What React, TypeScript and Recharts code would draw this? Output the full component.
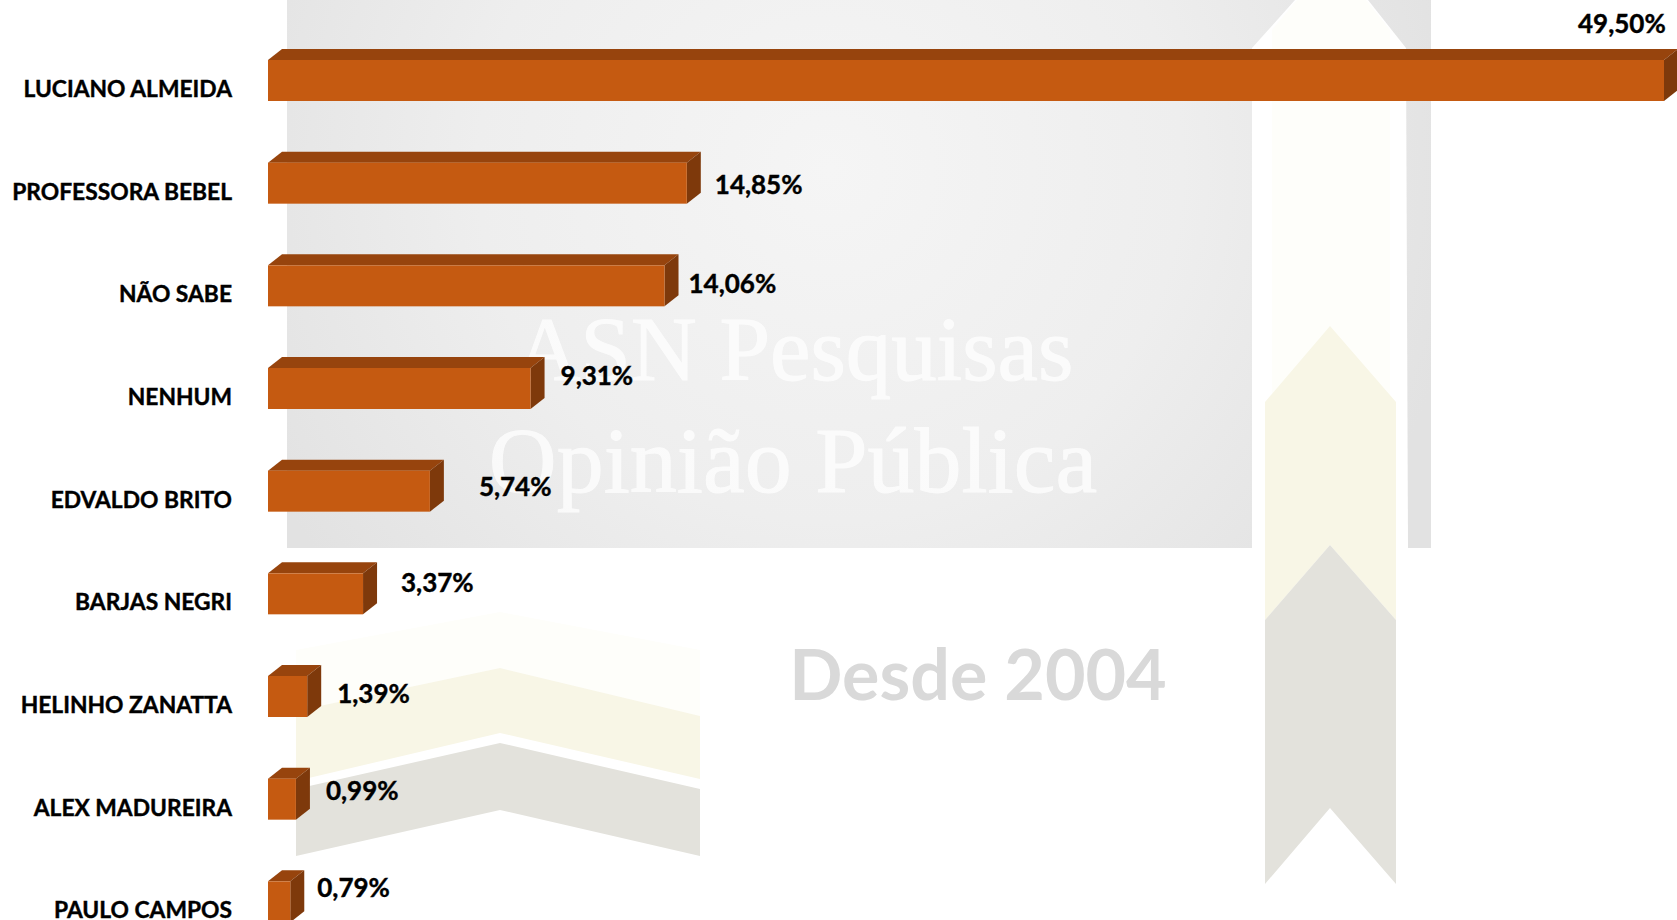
import { Bar, BarChart, LabelList, XAxis, YAxis } from "recharts";

const CANDIDATES = [
  "LUCIANO ALMEIDA",
  "PROFESSORA BEBEL",
  "NÃO SABE",
  "NENHUM",
  "EDVALDO BRITO",
  "BARJAS NEGRI",
  "HELINHO ZANATTA",
  "ALEX MADUREIRA",
  "PAULO CAMPOS",
];
const VOTES = [49.5, 14.85, 14.06, 9.31, 5.74, 3.37, 1.39, 0.99, 0.79];

// rotulos foram arrastados a mao no original
const LABEL_DX = [-86, 28, 24, 30, 49, 38, 30, 30, 27];
const LABEL_DY = [-58, 1, -3, -14, -5, -12, -4, -9, -15];

const FRONT = "#C55A11";
const TOP = "#97440D";
const SIDE = "#7E390B";
const FONT = "Lato, sans-serif";

const data = CANDIDATES.map((name, i) => ({ name, value: VOTES[i] }));

const DEPTH_X = 14;
const DEPTH_Y = 11;

function Bar3D({ x, y, width, height }: any) {
  const r = x + width;
  const b = y + height;
  return (
    <g>
      <polygon
        points={`${x},${y} ${x + DEPTH_X},${y - DEPTH_Y} ${r + DEPTH_X},${y - DEPTH_Y} ${r},${y}`}
        fill={TOP}
      />
      <polygon
        points={`${r},${y} ${r + DEPTH_X},${y - DEPTH_Y} ${r + DEPTH_X},${b - DEPTH_Y} ${r},${b}`}
        fill={SIDE}
      />
      <rect x={x} y={y} width={width} height={height} fill={FRONT} />
    </g>
  );
}

function ValueLabel({ x, y, width, height, value, index }: any) {
  return (
    <text
      x={x + width + LABEL_DX[index]}
      y={y + height / 2 + LABEL_DY[index]}
      fill="#000"
      stroke="#000"
      strokeWidth={0.4}
      fontFamily={FONT}
      fontWeight={700}
      fontSize={26}
      dominantBaseline="central"
    >
      {`${Number(value).toFixed(2).replace(".", ",")}%`}
    </text>
  );
}

/** marca d'agua do fundo */
function Watermark() {
  return (
    <svg width={1677} height={920} style={{ position: "absolute", left: 0, top: 0 }}>
      <defs>
        <radialGradient id="panel" gradientUnits="userSpaceOnUse" cx={830} cy={170} r={640}>
          <stop offset="0%" stopColor="#f5f5f5" />
          <stop offset="55%" stopColor="#eeeeee" />
          <stop offset="100%" stopColor="#e2e2e2" />
        </radialGradient>
      </defs>
      <rect x={287} y={0} width={1144} height={548} fill="url(#panel)" />
      <polygon points="1252,548 1252,48 1295,0 1368,0 1406,48 1408,548" fill="#fff" />
      <polygon points="1272,402 1272,30 1297,0 1366,0 1390,30 1390,402 1330,326" fill="#fefefa" />
      <polygon points="1265,402 1330,326 1396,402 1396,620 1330,545 1265,620" fill="#f8f6e6" />
      <polygon points="1265,620 1330,545 1396,620 1396,884 1330,808 1265,884" fill="#e3e2dc" />
      <polygon points="296,711 296,650 500,612 700,650 700,716 500,668" fill="#fefefa" />
      <polygon points="296,711 500,668 700,716 700,779 500,733 296,781" fill="#f8f6e6" />
      <polygon points="296,789 500,743 700,789 700,856 500,810 296,856" fill="#e3e2dc" />
      <g
        fontFamily="Liberation Serif, serif"
        fill="#fff"
        stroke="#fff"
        strokeWidth={1}
        opacity={0.75}
        textAnchor="middle"
      >
        <text x={794} y={380} fontSize={91}>ASN Pesquisas</text>
        <text x={793} y={492} fontSize={94}>Opinião Pública</text>
      </g>
      <text
        x={978}
        y={700}
        fontFamily={FONT}
        fontWeight={700}
        fontSize={70}
        fill="#d9d9d9"
        textAnchor="middle"
      >
        Desde 2004
      </text>
    </svg>
  );
}

export default function App() {
  return (
    <div
      style={{
        position: "absolute",
        left: 0,
        top: 0,
        width: 1677,
        height: 920,
        overflow: "hidden",
        background: "#fff",
      }}
    >
      <Watermark />
      <div style={{ position: "absolute", left: 0, top: 0 }}>
        <BarChart
          width={1677}
          height={953}
          data={data}
          layout="vertical"
          margin={{ top: 29, right: 13, bottom: 0, left: 0 }}
        >
          <XAxis type="number" hide domain={[0, 49.5]} />
          <YAxis
            type="category"
            dataKey="name"
            width={268}
            axisLine={false}
            tickLine={false}
            tickSize={0}
            tickMargin={36}
            interval={0}
            tick={{
              fill: "#000",
              stroke: "#000",
              strokeWidth: 0.4,
              fontSize: 22.8,
              fontWeight: 700,
              fontFamily: FONT,
              dy: 8.5,
            }}
          />
          <Bar dataKey="value" barSize={41} isAnimationActive={false} shape={<Bar3D />}>
            <LabelList dataKey="value" content={<ValueLabel />} />
          </Bar>
        </BarChart>
      </div>
    </div>
  );
}
